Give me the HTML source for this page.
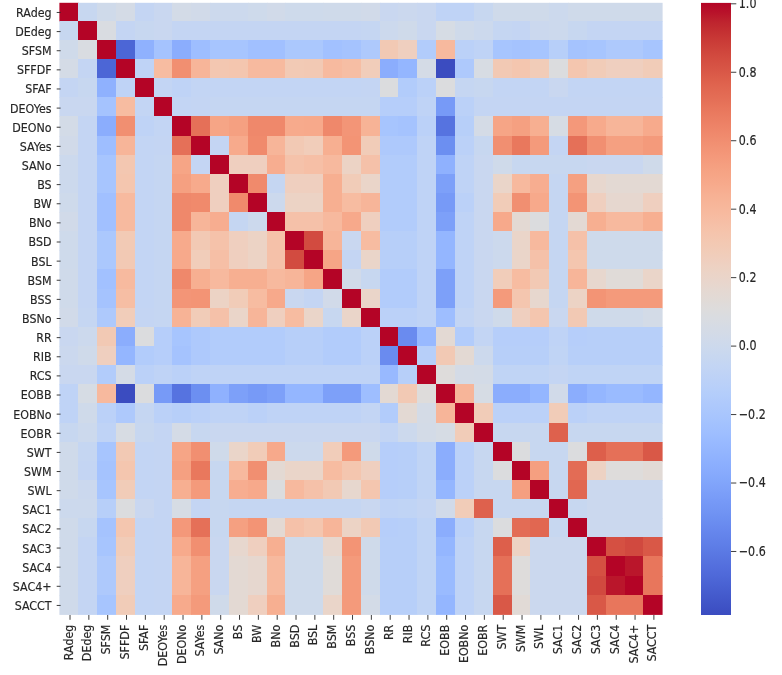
<!DOCTYPE html><html><head><meta charset="utf-8"><title>Correlation heatmap</title>
<style>html,body{margin:0;padding:0;background:#fff}svg{display:block}text{font-family:"DejaVu Sans","Liberation Sans",sans-serif;font-size:11.1px;fill:#262626;stroke:#262626;stroke-width:0.15px}</style></head><body>
<svg width="782" height="675" viewBox="0 0 782 675">
<rect width="782" height="675" fill="#fff"/>
<g>
<rect x="59.40" y="2.80" width="19.20" height="18.80" fill="#b40426"/>
<rect x="78.00" y="2.80" width="19.60" height="18.80" fill="#c7d7f0"/>
<rect x="97.00" y="2.80" width="19.60" height="18.80" fill="#cfdaea"/>
<rect x="116.00" y="2.80" width="19.60" height="18.80" fill="#d4dbe6"/>
<rect x="135.00" y="2.80" width="19.60" height="18.80" fill="#c4d5f3"/>
<rect x="154.00" y="2.80" width="18.60" height="18.80" fill="#c9d7f0"/>
<rect x="172.00" y="2.80" width="19.60" height="18.80" fill="#d3dbe7"/>
<rect x="191.00" y="2.80" width="19.60" height="18.80" fill="#d1dae9"/>
<rect x="210.00" y="2.80" width="38.60" height="18.80" fill="#ccd9ed"/>
<rect x="248.00" y="2.80" width="19.60" height="18.80" fill="#cedaeb"/>
<rect x="267.00" y="2.80" width="18.60" height="18.80" fill="#d1dae9"/>
<rect x="285.00" y="2.80" width="38.60" height="18.80" fill="#cedaeb"/>
<rect x="323.00" y="2.80" width="38.60" height="18.80" fill="#cfdaea"/>
<rect x="361.00" y="2.80" width="19.60" height="18.80" fill="#d1dae9"/>
<rect x="380.00" y="2.80" width="18.60" height="18.80" fill="#c9d7f0"/>
<rect x="398.00" y="2.80" width="19.60" height="18.80" fill="#cbd8ee"/>
<rect x="417.00" y="2.80" width="19.60" height="18.80" fill="#c9d7f0"/>
<rect x="436.00" y="2.80" width="38.60" height="18.80" fill="#bfd3f6"/>
<rect x="474.00" y="2.80" width="19.60" height="18.80" fill="#c7d7f0"/>
<rect x="493.00" y="2.80" width="56.60" height="18.80" fill="#cfdaea"/>
<rect x="549.00" y="2.80" width="19.60" height="18.80" fill="#ccd9ed"/>
<rect x="568.00" y="2.80" width="94.60" height="18.80" fill="#cfdaea"/>
<rect x="59.40" y="21.00" width="19.20" height="19.60" fill="#c7d7f0"/>
<rect x="78.00" y="21.00" width="19.60" height="19.60" fill="#b40426"/>
<rect x="97.00" y="21.00" width="19.60" height="19.60" fill="#d9dce1"/>
<rect x="116.00" y="21.00" width="19.60" height="19.60" fill="#c4d5f3"/>
<rect x="135.00" y="21.00" width="19.60" height="19.60" fill="#c7d7f0"/>
<rect x="154.00" y="21.00" width="18.60" height="19.60" fill="#c9d7f0"/>
<rect x="172.00" y="21.00" width="189.60" height="19.60" fill="#c4d5f3"/>
<rect x="361.00" y="21.00" width="19.60" height="19.60" fill="#c5d6f2"/>
<rect x="380.00" y="21.00" width="18.60" height="19.60" fill="#ccd9ed"/>
<rect x="398.00" y="21.00" width="19.60" height="19.60" fill="#cfdaea"/>
<rect x="417.00" y="21.00" width="19.60" height="19.60" fill="#c9d7f0"/>
<rect x="436.00" y="21.00" width="19.60" height="19.60" fill="#d6dce4"/>
<rect x="455.00" y="21.00" width="19.60" height="19.60" fill="#cfdaea"/>
<rect x="474.00" y="21.00" width="19.60" height="19.60" fill="#ccd9ed"/>
<rect x="493.00" y="21.00" width="19.60" height="19.60" fill="#c5d6f2"/>
<rect x="512.00" y="21.00" width="18.60" height="19.60" fill="#c4d5f3"/>
<rect x="530.00" y="21.00" width="19.60" height="19.60" fill="#cbd8ee"/>
<rect x="549.00" y="21.00" width="19.60" height="19.60" fill="#ccd9ed"/>
<rect x="568.00" y="21.00" width="19.60" height="19.60" fill="#c7d7f0"/>
<rect x="587.00" y="21.00" width="75.60" height="19.60" fill="#c4d5f3"/>
<rect x="59.40" y="40.00" width="19.20" height="19.60" fill="#cfdaea"/>
<rect x="78.00" y="40.00" width="19.60" height="19.60" fill="#d9dce1"/>
<rect x="97.00" y="40.00" width="19.60" height="19.60" fill="#b40426"/>
<rect x="116.00" y="40.00" width="19.60" height="19.60" fill="#4c66d6"/>
<rect x="135.00" y="40.00" width="19.60" height="19.60" fill="#8fb1fe"/>
<rect x="154.00" y="40.00" width="18.60" height="19.60" fill="#a5c3fe"/>
<rect x="172.00" y="40.00" width="19.60" height="19.60" fill="#8badfd"/>
<rect x="191.00" y="40.00" width="19.60" height="19.60" fill="#9ebeff"/>
<rect x="210.00" y="40.00" width="38.60" height="19.60" fill="#a7c5fe"/>
<rect x="248.00" y="40.00" width="37.60" height="19.60" fill="#a1c0ff"/>
<rect x="285.00" y="40.00" width="38.60" height="19.60" fill="#abc8fd"/>
<rect x="323.00" y="40.00" width="19.60" height="19.60" fill="#a2c1ff"/>
<rect x="342.00" y="40.00" width="19.60" height="19.60" fill="#a5c3fe"/>
<rect x="361.00" y="40.00" width="19.60" height="19.60" fill="#aec9fc"/>
<rect x="380.00" y="40.00" width="18.60" height="19.60" fill="#f2c9b4"/>
<rect x="398.00" y="40.00" width="19.60" height="19.60" fill="#efcfbf"/>
<rect x="417.00" y="40.00" width="19.60" height="19.60" fill="#b2ccfb"/>
<rect x="436.00" y="40.00" width="19.60" height="19.60" fill="#f7b99e"/>
<rect x="455.00" y="40.00" width="19.60" height="19.60" fill="#bbd1f8"/>
<rect x="474.00" y="40.00" width="19.60" height="19.60" fill="#bfd3f6"/>
<rect x="493.00" y="40.00" width="19.60" height="19.60" fill="#a7c5fe"/>
<rect x="512.00" y="40.00" width="18.60" height="19.60" fill="#a5c3fe"/>
<rect x="530.00" y="40.00" width="19.60" height="19.60" fill="#a7c5fe"/>
<rect x="549.00" y="40.00" width="19.60" height="19.60" fill="#b7cff9"/>
<rect x="568.00" y="40.00" width="19.60" height="19.60" fill="#a5c3fe"/>
<rect x="587.00" y="40.00" width="19.60" height="19.60" fill="#a7c5fe"/>
<rect x="606.00" y="40.00" width="37.60" height="19.60" fill="#aec9fc"/>
<rect x="643.00" y="40.00" width="19.60" height="19.60" fill="#a7c5fe"/>
<rect x="59.40" y="59.00" width="19.20" height="19.60" fill="#d4dbe6"/>
<rect x="78.00" y="59.00" width="19.60" height="19.60" fill="#c4d5f3"/>
<rect x="97.00" y="59.00" width="19.60" height="19.60" fill="#4c66d6"/>
<rect x="116.00" y="59.00" width="19.60" height="19.60" fill="#b40426"/>
<rect x="135.00" y="59.00" width="19.60" height="19.60" fill="#bfd3f6"/>
<rect x="154.00" y="59.00" width="18.60" height="19.60" fill="#f7bca1"/>
<rect x="172.00" y="59.00" width="19.60" height="19.60" fill="#f18f71"/>
<rect x="191.00" y="59.00" width="19.60" height="19.60" fill="#f7b599"/>
<rect x="210.00" y="59.00" width="19.60" height="19.60" fill="#f3c7b1"/>
<rect x="229.00" y="59.00" width="19.60" height="19.60" fill="#f4c6af"/>
<rect x="248.00" y="59.00" width="37.60" height="19.60" fill="#f7ba9f"/>
<rect x="285.00" y="59.00" width="19.60" height="19.60" fill="#f2cab5"/>
<rect x="304.00" y="59.00" width="19.60" height="19.60" fill="#f2c9b4"/>
<rect x="323.00" y="59.00" width="19.60" height="19.60" fill="#f7ba9f"/>
<rect x="342.00" y="59.00" width="19.60" height="19.60" fill="#f6bea4"/>
<rect x="361.00" y="59.00" width="19.60" height="19.60" fill="#f1cdba"/>
<rect x="380.00" y="59.00" width="18.60" height="19.60" fill="#8badfd"/>
<rect x="398.00" y="59.00" width="19.60" height="19.60" fill="#94b6ff"/>
<rect x="417.00" y="59.00" width="19.60" height="19.60" fill="#d4dbe6"/>
<rect x="436.00" y="59.00" width="19.60" height="19.60" fill="#3b4cc0"/>
<rect x="455.00" y="59.00" width="19.60" height="19.60" fill="#aec9fc"/>
<rect x="474.00" y="59.00" width="19.60" height="19.60" fill="#d7dce3"/>
<rect x="493.00" y="59.00" width="19.60" height="19.60" fill="#f2c9b4"/>
<rect x="512.00" y="59.00" width="18.60" height="19.60" fill="#f4c6af"/>
<rect x="530.00" y="59.00" width="19.60" height="19.60" fill="#f1ccb8"/>
<rect x="549.00" y="59.00" width="19.60" height="19.60" fill="#dbdcde"/>
<rect x="568.00" y="59.00" width="19.60" height="19.60" fill="#f4c6af"/>
<rect x="587.00" y="59.00" width="19.60" height="19.60" fill="#f1ccb8"/>
<rect x="606.00" y="59.00" width="37.60" height="19.60" fill="#efcfbf"/>
<rect x="643.00" y="59.00" width="19.60" height="19.60" fill="#f1ccb8"/>
<rect x="59.40" y="78.00" width="19.20" height="19.60" fill="#c4d5f3"/>
<rect x="78.00" y="78.00" width="19.60" height="19.60" fill="#c7d7f0"/>
<rect x="97.00" y="78.00" width="19.60" height="19.60" fill="#8fb1fe"/>
<rect x="116.00" y="78.00" width="19.60" height="19.60" fill="#bfd3f6"/>
<rect x="135.00" y="78.00" width="19.60" height="19.60" fill="#b40426"/>
<rect x="154.00" y="78.00" width="18.60" height="19.60" fill="#c3d5f4"/>
<rect x="172.00" y="78.00" width="19.60" height="19.60" fill="#bfd3f6"/>
<rect x="191.00" y="78.00" width="170.60" height="19.60" fill="#c3d5f4"/>
<rect x="361.00" y="78.00" width="19.60" height="19.60" fill="#c4d5f3"/>
<rect x="380.00" y="78.00" width="18.60" height="19.60" fill="#dbdcde"/>
<rect x="398.00" y="78.00" width="19.60" height="19.60" fill="#b2ccfb"/>
<rect x="417.00" y="78.00" width="19.60" height="19.60" fill="#bbd1f8"/>
<rect x="436.00" y="78.00" width="19.60" height="19.60" fill="#dbdcde"/>
<rect x="455.00" y="78.00" width="19.60" height="19.60" fill="#c5d6f2"/>
<rect x="474.00" y="78.00" width="19.60" height="19.60" fill="#c7d7f0"/>
<rect x="493.00" y="78.00" width="56.60" height="19.60" fill="#c3d5f4"/>
<rect x="549.00" y="78.00" width="19.60" height="19.60" fill="#c9d7f0"/>
<rect x="568.00" y="78.00" width="94.60" height="19.60" fill="#c3d5f4"/>
<rect x="59.40" y="97.00" width="38.20" height="19.60" fill="#c9d7f0"/>
<rect x="97.00" y="97.00" width="19.60" height="19.60" fill="#a5c3fe"/>
<rect x="116.00" y="97.00" width="19.60" height="19.60" fill="#f7bca1"/>
<rect x="135.00" y="97.00" width="19.60" height="19.60" fill="#c3d5f4"/>
<rect x="154.00" y="97.00" width="18.60" height="19.60" fill="#b40426"/>
<rect x="172.00" y="97.00" width="19.60" height="19.60" fill="#c3d5f4"/>
<rect x="191.00" y="97.00" width="19.60" height="19.60" fill="#c4d5f3"/>
<rect x="210.00" y="97.00" width="170.60" height="19.60" fill="#c5d6f2"/>
<rect x="380.00" y="97.00" width="37.60" height="19.60" fill="#b6cefa"/>
<rect x="417.00" y="97.00" width="19.60" height="19.60" fill="#bfd3f6"/>
<rect x="436.00" y="97.00" width="19.60" height="19.60" fill="#779af7"/>
<rect x="455.00" y="97.00" width="19.60" height="19.60" fill="#bbd1f8"/>
<rect x="474.00" y="97.00" width="188.60" height="19.60" fill="#c4d5f3"/>
<rect x="59.40" y="116.00" width="19.20" height="20.60" fill="#d3dbe7"/>
<rect x="78.00" y="116.00" width="19.60" height="20.60" fill="#c4d5f3"/>
<rect x="97.00" y="116.00" width="19.60" height="20.60" fill="#8badfd"/>
<rect x="116.00" y="116.00" width="19.60" height="20.60" fill="#f18f71"/>
<rect x="135.00" y="116.00" width="19.60" height="20.60" fill="#bfd3f6"/>
<rect x="154.00" y="116.00" width="18.60" height="20.60" fill="#c3d5f4"/>
<rect x="172.00" y="116.00" width="19.60" height="20.60" fill="#b40426"/>
<rect x="191.00" y="116.00" width="19.60" height="20.60" fill="#e57058"/>
<rect x="210.00" y="116.00" width="19.60" height="20.60" fill="#f6a586"/>
<rect x="229.00" y="116.00" width="19.60" height="20.60" fill="#f5a081"/>
<rect x="248.00" y="116.00" width="37.60" height="20.60" fill="#ef886b"/>
<rect x="285.00" y="116.00" width="19.60" height="20.60" fill="#f7aa8c"/>
<rect x="304.00" y="116.00" width="19.60" height="20.60" fill="#f7a98b"/>
<rect x="323.00" y="116.00" width="19.60" height="20.60" fill="#ef886b"/>
<rect x="342.00" y="116.00" width="19.60" height="20.60" fill="#f39577"/>
<rect x="361.00" y="116.00" width="19.60" height="20.60" fill="#f7b396"/>
<rect x="380.00" y="116.00" width="18.60" height="20.60" fill="#a7c5fe"/>
<rect x="398.00" y="116.00" width="19.60" height="20.60" fill="#a5c3fe"/>
<rect x="417.00" y="116.00" width="19.60" height="20.60" fill="#bbd1f8"/>
<rect x="436.00" y="116.00" width="19.60" height="20.60" fill="#5673e0"/>
<rect x="455.00" y="116.00" width="19.60" height="20.60" fill="#b7cff9"/>
<rect x="474.00" y="116.00" width="19.60" height="20.60" fill="#d4dbe6"/>
<rect x="493.00" y="116.00" width="19.60" height="20.60" fill="#f6a586"/>
<rect x="512.00" y="116.00" width="18.60" height="20.60" fill="#f5a081"/>
<rect x="530.00" y="116.00" width="19.60" height="20.60" fill="#f7af91"/>
<rect x="549.00" y="116.00" width="19.60" height="20.60" fill="#d6dce4"/>
<rect x="568.00" y="116.00" width="19.60" height="20.60" fill="#f4987a"/>
<rect x="587.00" y="116.00" width="19.60" height="20.60" fill="#f7aa8c"/>
<rect x="606.00" y="116.00" width="37.60" height="20.60" fill="#f7b599"/>
<rect x="643.00" y="116.00" width="19.60" height="20.60" fill="#f7aa8c"/>
<rect x="59.40" y="136.00" width="19.20" height="19.60" fill="#d1dae9"/>
<rect x="78.00" y="136.00" width="19.60" height="19.60" fill="#c4d5f3"/>
<rect x="97.00" y="136.00" width="19.60" height="19.60" fill="#9ebeff"/>
<rect x="116.00" y="136.00" width="19.60" height="19.60" fill="#f7b599"/>
<rect x="135.00" y="136.00" width="19.60" height="19.60" fill="#c3d5f4"/>
<rect x="154.00" y="136.00" width="18.60" height="19.60" fill="#c4d5f3"/>
<rect x="172.00" y="136.00" width="19.60" height="19.60" fill="#e57058"/>
<rect x="191.00" y="136.00" width="19.60" height="19.60" fill="#b40426"/>
<rect x="210.00" y="136.00" width="19.60" height="19.60" fill="#c4d5f3"/>
<rect x="229.00" y="136.00" width="19.60" height="19.60" fill="#f7aa8c"/>
<rect x="248.00" y="136.00" width="19.60" height="19.60" fill="#f08a6c"/>
<rect x="267.00" y="136.00" width="18.60" height="19.60" fill="#f7b599"/>
<rect x="285.00" y="136.00" width="19.60" height="19.60" fill="#f2c9b4"/>
<rect x="304.00" y="136.00" width="19.60" height="19.60" fill="#f1cdba"/>
<rect x="323.00" y="136.00" width="19.60" height="19.60" fill="#f7af91"/>
<rect x="342.00" y="136.00" width="19.60" height="19.60" fill="#f39475"/>
<rect x="361.00" y="136.00" width="19.60" height="19.60" fill="#f1ccb8"/>
<rect x="380.00" y="136.00" width="37.60" height="19.60" fill="#aec9fc"/>
<rect x="417.00" y="136.00" width="19.60" height="19.60" fill="#bfd3f6"/>
<rect x="436.00" y="136.00" width="19.60" height="19.60" fill="#6c8ff1"/>
<rect x="455.00" y="136.00" width="19.60" height="19.60" fill="#bbd1f8"/>
<rect x="474.00" y="136.00" width="19.60" height="19.60" fill="#c7d7f0"/>
<rect x="493.00" y="136.00" width="19.60" height="19.60" fill="#f18f71"/>
<rect x="512.00" y="136.00" width="18.60" height="19.60" fill="#e9785d"/>
<rect x="530.00" y="136.00" width="19.60" height="19.60" fill="#f49a7b"/>
<rect x="549.00" y="136.00" width="19.60" height="19.60" fill="#c4d5f3"/>
<rect x="568.00" y="136.00" width="19.60" height="19.60" fill="#e57058"/>
<rect x="587.00" y="136.00" width="19.60" height="19.60" fill="#f18f71"/>
<rect x="606.00" y="136.00" width="37.60" height="19.60" fill="#f5a081"/>
<rect x="643.00" y="136.00" width="19.60" height="19.60" fill="#f49a7b"/>
<rect x="59.40" y="155.00" width="19.20" height="19.60" fill="#ccd9ed"/>
<rect x="78.00" y="155.00" width="19.60" height="19.60" fill="#c4d5f3"/>
<rect x="97.00" y="155.00" width="19.60" height="19.60" fill="#a7c5fe"/>
<rect x="116.00" y="155.00" width="19.60" height="19.60" fill="#f3c7b1"/>
<rect x="135.00" y="155.00" width="19.60" height="19.60" fill="#c3d5f4"/>
<rect x="154.00" y="155.00" width="18.60" height="19.60" fill="#c5d6f2"/>
<rect x="172.00" y="155.00" width="19.60" height="19.60" fill="#f6a586"/>
<rect x="191.00" y="155.00" width="19.60" height="19.60" fill="#c4d5f3"/>
<rect x="210.00" y="155.00" width="19.60" height="19.60" fill="#b40426"/>
<rect x="229.00" y="155.00" width="38.60" height="19.60" fill="#efcfbf"/>
<rect x="267.00" y="155.00" width="18.60" height="19.60" fill="#f7ad90"/>
<rect x="285.00" y="155.00" width="19.60" height="19.60" fill="#f5c2aa"/>
<rect x="304.00" y="155.00" width="19.60" height="19.60" fill="#f6bfa6"/>
<rect x="323.00" y="155.00" width="19.60" height="19.60" fill="#f7b99e"/>
<rect x="342.00" y="155.00" width="19.60" height="19.60" fill="#ecd3c5"/>
<rect x="361.00" y="155.00" width="19.60" height="19.60" fill="#f5c1a9"/>
<rect x="380.00" y="155.00" width="37.60" height="19.60" fill="#b2ccfb"/>
<rect x="417.00" y="155.00" width="19.60" height="19.60" fill="#bfd3f6"/>
<rect x="436.00" y="155.00" width="19.60" height="19.60" fill="#8fb1fe"/>
<rect x="455.00" y="155.00" width="19.60" height="19.60" fill="#bfd3f6"/>
<rect x="474.00" y="155.00" width="19.60" height="19.60" fill="#c9d7f0"/>
<rect x="493.00" y="155.00" width="19.60" height="19.60" fill="#cfdaea"/>
<rect x="512.00" y="155.00" width="75.60" height="19.60" fill="#c7d7f0"/>
<rect x="587.00" y="155.00" width="56.60" height="19.60" fill="#c9d7f0"/>
<rect x="643.00" y="155.00" width="19.60" height="19.60" fill="#cfdaea"/>
<rect x="59.40" y="174.00" width="19.20" height="19.60" fill="#ccd9ed"/>
<rect x="78.00" y="174.00" width="19.60" height="19.60" fill="#c4d5f3"/>
<rect x="97.00" y="174.00" width="19.60" height="19.60" fill="#a7c5fe"/>
<rect x="116.00" y="174.00" width="19.60" height="19.60" fill="#f4c6af"/>
<rect x="135.00" y="174.00" width="19.60" height="19.60" fill="#c3d5f4"/>
<rect x="154.00" y="174.00" width="18.60" height="19.60" fill="#c5d6f2"/>
<rect x="172.00" y="174.00" width="19.60" height="19.60" fill="#f5a081"/>
<rect x="191.00" y="174.00" width="19.60" height="19.60" fill="#f7aa8c"/>
<rect x="210.00" y="174.00" width="19.60" height="19.60" fill="#efcfbf"/>
<rect x="229.00" y="174.00" width="19.60" height="19.60" fill="#b40426"/>
<rect x="248.00" y="174.00" width="19.60" height="19.60" fill="#f08a6c"/>
<rect x="267.00" y="174.00" width="18.60" height="19.60" fill="#c5d6f2"/>
<rect x="285.00" y="174.00" width="38.60" height="19.60" fill="#efcfbf"/>
<rect x="323.00" y="174.00" width="19.60" height="19.60" fill="#f7af91"/>
<rect x="342.00" y="174.00" width="19.60" height="19.60" fill="#f1ccb8"/>
<rect x="361.00" y="174.00" width="19.60" height="19.60" fill="#ead5c9"/>
<rect x="380.00" y="174.00" width="37.60" height="19.60" fill="#b2ccfb"/>
<rect x="417.00" y="174.00" width="19.60" height="19.60" fill="#bfd3f6"/>
<rect x="436.00" y="174.00" width="19.60" height="19.60" fill="#7da0f9"/>
<rect x="455.00" y="174.00" width="19.60" height="19.60" fill="#bfd3f6"/>
<rect x="474.00" y="174.00" width="19.60" height="19.60" fill="#c9d7f0"/>
<rect x="493.00" y="174.00" width="19.60" height="19.60" fill="#ead5c9"/>
<rect x="512.00" y="174.00" width="18.60" height="19.60" fill="#f7b99e"/>
<rect x="530.00" y="174.00" width="19.60" height="19.60" fill="#f7ad90"/>
<rect x="549.00" y="174.00" width="19.60" height="19.60" fill="#c5d6f2"/>
<rect x="568.00" y="174.00" width="19.60" height="19.60" fill="#f5a081"/>
<rect x="587.00" y="174.00" width="19.60" height="19.60" fill="#e7d7ce"/>
<rect x="606.00" y="174.00" width="56.60" height="19.60" fill="#e3d9d3"/>
<rect x="59.40" y="193.00" width="19.20" height="19.60" fill="#cedaeb"/>
<rect x="78.00" y="193.00" width="19.60" height="19.60" fill="#c4d5f3"/>
<rect x="97.00" y="193.00" width="19.60" height="19.60" fill="#a1c0ff"/>
<rect x="116.00" y="193.00" width="19.60" height="19.60" fill="#f7ba9f"/>
<rect x="135.00" y="193.00" width="19.60" height="19.60" fill="#c3d5f4"/>
<rect x="154.00" y="193.00" width="18.60" height="19.60" fill="#c5d6f2"/>
<rect x="172.00" y="193.00" width="19.60" height="19.60" fill="#ef886b"/>
<rect x="191.00" y="193.00" width="19.60" height="19.60" fill="#f08a6c"/>
<rect x="210.00" y="193.00" width="19.60" height="19.60" fill="#efcfbf"/>
<rect x="229.00" y="193.00" width="19.60" height="19.60" fill="#f08a6c"/>
<rect x="248.00" y="193.00" width="19.60" height="19.60" fill="#b40426"/>
<rect x="267.00" y="193.00" width="18.60" height="19.60" fill="#ccd9ed"/>
<rect x="285.00" y="193.00" width="38.60" height="19.60" fill="#ecd3c5"/>
<rect x="323.00" y="193.00" width="19.60" height="19.60" fill="#f7af91"/>
<rect x="342.00" y="193.00" width="19.60" height="19.60" fill="#f7bca1"/>
<rect x="361.00" y="193.00" width="19.60" height="19.60" fill="#f7b599"/>
<rect x="380.00" y="193.00" width="37.60" height="19.60" fill="#b2ccfb"/>
<rect x="417.00" y="193.00" width="19.60" height="19.60" fill="#bfd3f6"/>
<rect x="436.00" y="193.00" width="19.60" height="19.60" fill="#779af7"/>
<rect x="455.00" y="193.00" width="19.60" height="19.60" fill="#bbd1f8"/>
<rect x="474.00" y="193.00" width="19.60" height="19.60" fill="#c9d7f0"/>
<rect x="493.00" y="193.00" width="19.60" height="19.60" fill="#f1ccb8"/>
<rect x="512.00" y="193.00" width="18.60" height="19.60" fill="#f18f71"/>
<rect x="530.00" y="193.00" width="19.60" height="19.60" fill="#f7a98b"/>
<rect x="549.00" y="193.00" width="19.60" height="19.60" fill="#c5d6f2"/>
<rect x="568.00" y="193.00" width="19.60" height="19.60" fill="#f39475"/>
<rect x="587.00" y="193.00" width="19.60" height="19.60" fill="#efcfbf"/>
<rect x="606.00" y="193.00" width="37.60" height="19.60" fill="#e6d7cf"/>
<rect x="643.00" y="193.00" width="19.60" height="19.60" fill="#efcfbf"/>
<rect x="59.40" y="212.00" width="19.20" height="19.60" fill="#d1dae9"/>
<rect x="78.00" y="212.00" width="19.60" height="19.60" fill="#c4d5f3"/>
<rect x="97.00" y="212.00" width="19.60" height="19.60" fill="#a1c0ff"/>
<rect x="116.00" y="212.00" width="19.60" height="19.60" fill="#f7ba9f"/>
<rect x="135.00" y="212.00" width="19.60" height="19.60" fill="#c3d5f4"/>
<rect x="154.00" y="212.00" width="18.60" height="19.60" fill="#c5d6f2"/>
<rect x="172.00" y="212.00" width="19.60" height="19.60" fill="#ef886b"/>
<rect x="191.00" y="212.00" width="19.60" height="19.60" fill="#f7b599"/>
<rect x="210.00" y="212.00" width="19.60" height="19.60" fill="#f7ad90"/>
<rect x="229.00" y="212.00" width="19.60" height="19.60" fill="#c5d6f2"/>
<rect x="248.00" y="212.00" width="19.60" height="19.60" fill="#ccd9ed"/>
<rect x="267.00" y="212.00" width="18.60" height="19.60" fill="#b40426"/>
<rect x="285.00" y="212.00" width="38.60" height="19.60" fill="#f5c1a9"/>
<rect x="323.00" y="212.00" width="19.60" height="19.60" fill="#f7b99e"/>
<rect x="342.00" y="212.00" width="19.60" height="19.60" fill="#f7a98b"/>
<rect x="361.00" y="212.00" width="19.60" height="19.60" fill="#efcfbf"/>
<rect x="380.00" y="212.00" width="37.60" height="19.60" fill="#b2ccfb"/>
<rect x="417.00" y="212.00" width="19.60" height="19.60" fill="#bfd3f6"/>
<rect x="436.00" y="212.00" width="19.60" height="19.60" fill="#7da0f9"/>
<rect x="455.00" y="212.00" width="19.60" height="19.60" fill="#bfd3f6"/>
<rect x="474.00" y="212.00" width="19.60" height="19.60" fill="#c9d7f0"/>
<rect x="493.00" y="212.00" width="19.60" height="19.60" fill="#f7a98b"/>
<rect x="512.00" y="212.00" width="18.60" height="19.60" fill="#e3d9d3"/>
<rect x="530.00" y="212.00" width="19.60" height="19.60" fill="#dbdcde"/>
<rect x="549.00" y="212.00" width="19.60" height="19.60" fill="#c5d6f2"/>
<rect x="568.00" y="212.00" width="19.60" height="19.60" fill="#e3d9d3"/>
<rect x="587.00" y="212.00" width="19.60" height="19.60" fill="#f7af91"/>
<rect x="606.00" y="212.00" width="37.60" height="19.60" fill="#f7b99e"/>
<rect x="643.00" y="212.00" width="19.60" height="19.60" fill="#f7af91"/>
<rect x="59.40" y="231.00" width="19.20" height="19.60" fill="#cedaeb"/>
<rect x="78.00" y="231.00" width="19.60" height="19.60" fill="#c4d5f3"/>
<rect x="97.00" y="231.00" width="19.60" height="19.60" fill="#abc8fd"/>
<rect x="116.00" y="231.00" width="19.60" height="19.60" fill="#f2cab5"/>
<rect x="135.00" y="231.00" width="19.60" height="19.60" fill="#c3d5f4"/>
<rect x="154.00" y="231.00" width="18.60" height="19.60" fill="#c5d6f2"/>
<rect x="172.00" y="231.00" width="19.60" height="19.60" fill="#f7aa8c"/>
<rect x="191.00" y="231.00" width="19.60" height="19.60" fill="#f2c9b4"/>
<rect x="210.00" y="231.00" width="19.60" height="19.60" fill="#f5c2aa"/>
<rect x="229.00" y="231.00" width="19.60" height="19.60" fill="#efcfbf"/>
<rect x="248.00" y="231.00" width="19.60" height="19.60" fill="#ecd3c5"/>
<rect x="267.00" y="231.00" width="18.60" height="19.60" fill="#f5c1a9"/>
<rect x="285.00" y="231.00" width="19.60" height="19.60" fill="#b40426"/>
<rect x="304.00" y="231.00" width="19.60" height="19.60" fill="#d24b40"/>
<rect x="323.00" y="231.00" width="19.60" height="19.60" fill="#f7b599"/>
<rect x="342.00" y="231.00" width="19.60" height="19.60" fill="#c9d7f0"/>
<rect x="361.00" y="231.00" width="19.60" height="19.60" fill="#f7bca1"/>
<rect x="380.00" y="231.00" width="37.60" height="19.60" fill="#b7cff9"/>
<rect x="417.00" y="231.00" width="19.60" height="19.60" fill="#bfd3f6"/>
<rect x="436.00" y="231.00" width="19.60" height="19.60" fill="#94b6ff"/>
<rect x="455.00" y="231.00" width="19.60" height="19.60" fill="#bfd3f6"/>
<rect x="474.00" y="231.00" width="19.60" height="19.60" fill="#c9d7f0"/>
<rect x="493.00" y="231.00" width="19.60" height="19.60" fill="#ccd9ed"/>
<rect x="512.00" y="231.00" width="18.60" height="19.60" fill="#ead5c9"/>
<rect x="530.00" y="231.00" width="19.60" height="19.60" fill="#f7b99e"/>
<rect x="549.00" y="231.00" width="19.60" height="19.60" fill="#c5d6f2"/>
<rect x="568.00" y="231.00" width="19.60" height="19.60" fill="#f5c1a9"/>
<rect x="587.00" y="231.00" width="75.60" height="19.60" fill="#cedaeb"/>
<rect x="59.40" y="250.00" width="19.20" height="19.60" fill="#cedaeb"/>
<rect x="78.00" y="250.00" width="19.60" height="19.60" fill="#c4d5f3"/>
<rect x="97.00" y="250.00" width="19.60" height="19.60" fill="#abc8fd"/>
<rect x="116.00" y="250.00" width="19.60" height="19.60" fill="#f2c9b4"/>
<rect x="135.00" y="250.00" width="19.60" height="19.60" fill="#c3d5f4"/>
<rect x="154.00" y="250.00" width="18.60" height="19.60" fill="#c5d6f2"/>
<rect x="172.00" y="250.00" width="19.60" height="19.60" fill="#f7a98b"/>
<rect x="191.00" y="250.00" width="19.60" height="19.60" fill="#f1cdba"/>
<rect x="210.00" y="250.00" width="19.60" height="19.60" fill="#f6bfa6"/>
<rect x="229.00" y="250.00" width="19.60" height="19.60" fill="#efcfbf"/>
<rect x="248.00" y="250.00" width="19.60" height="19.60" fill="#ecd3c5"/>
<rect x="267.00" y="250.00" width="18.60" height="19.60" fill="#f5c1a9"/>
<rect x="285.00" y="250.00" width="19.60" height="19.60" fill="#d24b40"/>
<rect x="304.00" y="250.00" width="19.60" height="19.60" fill="#b40426"/>
<rect x="323.00" y="250.00" width="19.60" height="19.60" fill="#f6a586"/>
<rect x="342.00" y="250.00" width="19.60" height="19.60" fill="#c4d5f3"/>
<rect x="361.00" y="250.00" width="19.60" height="19.60" fill="#ead5c9"/>
<rect x="380.00" y="250.00" width="37.60" height="19.60" fill="#b7cff9"/>
<rect x="417.00" y="250.00" width="19.60" height="19.60" fill="#bfd3f6"/>
<rect x="436.00" y="250.00" width="19.60" height="19.60" fill="#94b6ff"/>
<rect x="455.00" y="250.00" width="19.60" height="19.60" fill="#bfd3f6"/>
<rect x="474.00" y="250.00" width="19.60" height="19.60" fill="#c9d7f0"/>
<rect x="493.00" y="250.00" width="19.60" height="19.60" fill="#ccd9ed"/>
<rect x="512.00" y="250.00" width="18.60" height="19.60" fill="#ead5c9"/>
<rect x="530.00" y="250.00" width="19.60" height="19.60" fill="#f5c1a9"/>
<rect x="549.00" y="250.00" width="19.60" height="19.60" fill="#c5d6f2"/>
<rect x="568.00" y="250.00" width="19.60" height="19.60" fill="#f4c6af"/>
<rect x="587.00" y="250.00" width="75.60" height="19.60" fill="#cedaeb"/>
<rect x="59.40" y="269.00" width="19.20" height="20.60" fill="#cfdaea"/>
<rect x="78.00" y="269.00" width="19.60" height="20.60" fill="#c4d5f3"/>
<rect x="97.00" y="269.00" width="19.60" height="20.60" fill="#a2c1ff"/>
<rect x="116.00" y="269.00" width="19.60" height="20.60" fill="#f7ba9f"/>
<rect x="135.00" y="269.00" width="19.60" height="20.60" fill="#c3d5f4"/>
<rect x="154.00" y="269.00" width="18.60" height="20.60" fill="#c5d6f2"/>
<rect x="172.00" y="269.00" width="19.60" height="20.60" fill="#ef886b"/>
<rect x="191.00" y="269.00" width="19.60" height="20.60" fill="#f7af91"/>
<rect x="210.00" y="269.00" width="19.60" height="20.60" fill="#f7b99e"/>
<rect x="229.00" y="269.00" width="38.60" height="20.60" fill="#f7af91"/>
<rect x="267.00" y="269.00" width="18.60" height="20.60" fill="#f7b99e"/>
<rect x="285.00" y="269.00" width="19.60" height="20.60" fill="#f7b599"/>
<rect x="304.00" y="269.00" width="19.60" height="20.60" fill="#f6a586"/>
<rect x="323.00" y="269.00" width="19.60" height="20.60" fill="#b40426"/>
<rect x="342.00" y="269.00" width="19.60" height="20.60" fill="#d1dae9"/>
<rect x="361.00" y="269.00" width="19.60" height="20.60" fill="#c7d7f0"/>
<rect x="380.00" y="269.00" width="37.60" height="20.60" fill="#b2ccfb"/>
<rect x="417.00" y="269.00" width="19.60" height="20.60" fill="#bfd3f6"/>
<rect x="436.00" y="269.00" width="19.60" height="20.60" fill="#7da0f9"/>
<rect x="455.00" y="269.00" width="19.60" height="20.60" fill="#bfd3f6"/>
<rect x="474.00" y="269.00" width="19.60" height="20.60" fill="#c9d7f0"/>
<rect x="493.00" y="269.00" width="19.60" height="20.60" fill="#f1cdba"/>
<rect x="512.00" y="269.00" width="18.60" height="20.60" fill="#f7bca1"/>
<rect x="530.00" y="269.00" width="19.60" height="20.60" fill="#f2c9b4"/>
<rect x="549.00" y="269.00" width="19.60" height="20.60" fill="#c5d6f2"/>
<rect x="568.00" y="269.00" width="19.60" height="20.60" fill="#f7b599"/>
<rect x="587.00" y="269.00" width="19.60" height="20.60" fill="#e7d7ce"/>
<rect x="606.00" y="269.00" width="37.60" height="20.60" fill="#e0dbd8"/>
<rect x="643.00" y="269.00" width="19.60" height="20.60" fill="#ead5c9"/>
<rect x="59.40" y="289.00" width="19.20" height="19.60" fill="#cfdaea"/>
<rect x="78.00" y="289.00" width="19.60" height="19.60" fill="#c4d5f3"/>
<rect x="97.00" y="289.00" width="19.60" height="19.60" fill="#a5c3fe"/>
<rect x="116.00" y="289.00" width="19.60" height="19.60" fill="#f6bea4"/>
<rect x="135.00" y="289.00" width="19.60" height="19.60" fill="#c3d5f4"/>
<rect x="154.00" y="289.00" width="18.60" height="19.60" fill="#c5d6f2"/>
<rect x="172.00" y="289.00" width="19.60" height="19.60" fill="#f39577"/>
<rect x="191.00" y="289.00" width="19.60" height="19.60" fill="#f39475"/>
<rect x="210.00" y="289.00" width="19.60" height="19.60" fill="#ecd3c5"/>
<rect x="229.00" y="289.00" width="19.60" height="19.60" fill="#f1ccb8"/>
<rect x="248.00" y="289.00" width="19.60" height="19.60" fill="#f7bca1"/>
<rect x="267.00" y="289.00" width="18.60" height="19.60" fill="#f7a98b"/>
<rect x="285.00" y="289.00" width="19.60" height="19.60" fill="#c9d7f0"/>
<rect x="304.00" y="289.00" width="19.60" height="19.60" fill="#c4d5f3"/>
<rect x="323.00" y="289.00" width="19.60" height="19.60" fill="#d1dae9"/>
<rect x="342.00" y="289.00" width="19.60" height="19.60" fill="#b40426"/>
<rect x="361.00" y="289.00" width="19.60" height="19.60" fill="#ead5c9"/>
<rect x="380.00" y="289.00" width="37.60" height="19.60" fill="#b2ccfb"/>
<rect x="417.00" y="289.00" width="19.60" height="19.60" fill="#bfd3f6"/>
<rect x="436.00" y="289.00" width="19.60" height="19.60" fill="#7da0f9"/>
<rect x="455.00" y="289.00" width="19.60" height="19.60" fill="#bfd3f6"/>
<rect x="474.00" y="289.00" width="19.60" height="19.60" fill="#c9d7f0"/>
<rect x="493.00" y="289.00" width="19.60" height="19.60" fill="#f49a7b"/>
<rect x="512.00" y="289.00" width="18.60" height="19.60" fill="#f4c6af"/>
<rect x="530.00" y="289.00" width="19.60" height="19.60" fill="#e7d7ce"/>
<rect x="549.00" y="289.00" width="19.60" height="19.60" fill="#c5d6f2"/>
<rect x="568.00" y="289.00" width="19.60" height="19.60" fill="#ecd3c5"/>
<rect x="587.00" y="289.00" width="19.60" height="19.60" fill="#f39475"/>
<rect x="606.00" y="289.00" width="56.60" height="19.60" fill="#f49a7b"/>
<rect x="59.40" y="308.00" width="19.20" height="19.60" fill="#d1dae9"/>
<rect x="78.00" y="308.00" width="19.60" height="19.60" fill="#c5d6f2"/>
<rect x="97.00" y="308.00" width="19.60" height="19.60" fill="#aec9fc"/>
<rect x="116.00" y="308.00" width="19.60" height="19.60" fill="#f1cdba"/>
<rect x="135.00" y="308.00" width="19.60" height="19.60" fill="#c4d5f3"/>
<rect x="154.00" y="308.00" width="18.60" height="19.60" fill="#c5d6f2"/>
<rect x="172.00" y="308.00" width="19.60" height="19.60" fill="#f7b396"/>
<rect x="191.00" y="308.00" width="19.60" height="19.60" fill="#f1ccb8"/>
<rect x="210.00" y="308.00" width="19.60" height="19.60" fill="#f5c1a9"/>
<rect x="229.00" y="308.00" width="19.60" height="19.60" fill="#ead5c9"/>
<rect x="248.00" y="308.00" width="19.60" height="19.60" fill="#f7b599"/>
<rect x="267.00" y="308.00" width="18.60" height="19.60" fill="#efcfbf"/>
<rect x="285.00" y="308.00" width="19.60" height="19.60" fill="#f7bca1"/>
<rect x="304.00" y="308.00" width="19.60" height="19.60" fill="#ead5c9"/>
<rect x="323.00" y="308.00" width="19.60" height="19.60" fill="#c7d7f0"/>
<rect x="342.00" y="308.00" width="19.60" height="19.60" fill="#ead5c9"/>
<rect x="361.00" y="308.00" width="19.60" height="19.60" fill="#b40426"/>
<rect x="380.00" y="308.00" width="37.60" height="19.60" fill="#bbd1f8"/>
<rect x="417.00" y="308.00" width="19.60" height="19.60" fill="#bfd3f6"/>
<rect x="436.00" y="308.00" width="19.60" height="19.60" fill="#9ebeff"/>
<rect x="455.00" y="308.00" width="19.60" height="19.60" fill="#c3d5f4"/>
<rect x="474.00" y="308.00" width="19.60" height="19.60" fill="#c9d7f0"/>
<rect x="493.00" y="308.00" width="19.60" height="19.60" fill="#cfdaea"/>
<rect x="512.00" y="308.00" width="18.60" height="19.60" fill="#efcfbf"/>
<rect x="530.00" y="308.00" width="19.60" height="19.60" fill="#f4c6af"/>
<rect x="549.00" y="308.00" width="19.60" height="19.60" fill="#c9d7f0"/>
<rect x="568.00" y="308.00" width="19.60" height="19.60" fill="#f2c9b4"/>
<rect x="587.00" y="308.00" width="56.60" height="19.60" fill="#cfdaea"/>
<rect x="643.00" y="308.00" width="19.60" height="19.60" fill="#d3dbe7"/>
<rect x="59.40" y="327.00" width="19.20" height="19.60" fill="#c9d7f0"/>
<rect x="78.00" y="327.00" width="19.60" height="19.60" fill="#ccd9ed"/>
<rect x="97.00" y="327.00" width="19.60" height="19.60" fill="#f2c9b4"/>
<rect x="116.00" y="327.00" width="19.60" height="19.60" fill="#8badfd"/>
<rect x="135.00" y="327.00" width="19.60" height="19.60" fill="#dbdcde"/>
<rect x="154.00" y="327.00" width="18.60" height="19.60" fill="#b6cefa"/>
<rect x="172.00" y="327.00" width="19.60" height="19.60" fill="#a7c5fe"/>
<rect x="191.00" y="327.00" width="19.60" height="19.60" fill="#aec9fc"/>
<rect x="210.00" y="327.00" width="75.60" height="19.60" fill="#b2ccfb"/>
<rect x="285.00" y="327.00" width="38.60" height="19.60" fill="#b7cff9"/>
<rect x="323.00" y="327.00" width="38.60" height="19.60" fill="#b2ccfb"/>
<rect x="361.00" y="327.00" width="19.60" height="19.60" fill="#bbd1f8"/>
<rect x="380.00" y="327.00" width="18.60" height="19.60" fill="#b40426"/>
<rect x="398.00" y="327.00" width="19.60" height="19.60" fill="#6a8bef"/>
<rect x="417.00" y="327.00" width="19.60" height="19.60" fill="#98b9ff"/>
<rect x="436.00" y="327.00" width="19.60" height="19.60" fill="#e3d9d3"/>
<rect x="455.00" y="327.00" width="19.60" height="19.60" fill="#b2ccfb"/>
<rect x="474.00" y="327.00" width="19.60" height="19.60" fill="#c3d5f4"/>
<rect x="493.00" y="327.00" width="56.60" height="19.60" fill="#b6cefa"/>
<rect x="549.00" y="327.00" width="19.60" height="19.60" fill="#bfd3f6"/>
<rect x="568.00" y="327.00" width="19.60" height="19.60" fill="#b6cefa"/>
<rect x="587.00" y="327.00" width="75.60" height="19.60" fill="#b7cff9"/>
<rect x="59.40" y="346.00" width="19.20" height="19.60" fill="#cbd8ee"/>
<rect x="78.00" y="346.00" width="19.60" height="19.60" fill="#cfdaea"/>
<rect x="97.00" y="346.00" width="19.60" height="19.60" fill="#efcfbf"/>
<rect x="116.00" y="346.00" width="19.60" height="19.60" fill="#94b6ff"/>
<rect x="135.00" y="346.00" width="19.60" height="19.60" fill="#b2ccfb"/>
<rect x="154.00" y="346.00" width="18.60" height="19.60" fill="#b6cefa"/>
<rect x="172.00" y="346.00" width="19.60" height="19.60" fill="#a5c3fe"/>
<rect x="191.00" y="346.00" width="19.60" height="19.60" fill="#aec9fc"/>
<rect x="210.00" y="346.00" width="75.60" height="19.60" fill="#b2ccfb"/>
<rect x="285.00" y="346.00" width="38.60" height="19.60" fill="#b7cff9"/>
<rect x="323.00" y="346.00" width="38.60" height="19.60" fill="#b2ccfb"/>
<rect x="361.00" y="346.00" width="19.60" height="19.60" fill="#bbd1f8"/>
<rect x="380.00" y="346.00" width="18.60" height="19.60" fill="#6a8bef"/>
<rect x="398.00" y="346.00" width="19.60" height="19.60" fill="#b40426"/>
<rect x="417.00" y="346.00" width="19.60" height="19.60" fill="#b7cff9"/>
<rect x="436.00" y="346.00" width="19.60" height="19.60" fill="#f2c9b4"/>
<rect x="455.00" y="346.00" width="19.60" height="19.60" fill="#e3d9d3"/>
<rect x="474.00" y="346.00" width="19.60" height="19.60" fill="#ccd9ed"/>
<rect x="493.00" y="346.00" width="56.60" height="19.60" fill="#b7cff9"/>
<rect x="549.00" y="346.00" width="19.60" height="19.60" fill="#c0d4f5"/>
<rect x="568.00" y="346.00" width="94.60" height="19.60" fill="#b7cff9"/>
<rect x="59.40" y="365.00" width="38.20" height="19.60" fill="#c9d7f0"/>
<rect x="97.00" y="365.00" width="19.60" height="19.60" fill="#b2ccfb"/>
<rect x="116.00" y="365.00" width="19.60" height="19.60" fill="#d4dbe6"/>
<rect x="135.00" y="365.00" width="19.60" height="19.60" fill="#bbd1f8"/>
<rect x="154.00" y="365.00" width="18.60" height="19.60" fill="#bfd3f6"/>
<rect x="172.00" y="365.00" width="19.60" height="19.60" fill="#bbd1f8"/>
<rect x="191.00" y="365.00" width="189.60" height="19.60" fill="#bfd3f6"/>
<rect x="380.00" y="365.00" width="18.60" height="19.60" fill="#98b9ff"/>
<rect x="398.00" y="365.00" width="19.60" height="19.60" fill="#b7cff9"/>
<rect x="417.00" y="365.00" width="19.60" height="19.60" fill="#b40426"/>
<rect x="436.00" y="365.00" width="19.60" height="19.60" fill="#dedcdb"/>
<rect x="455.00" y="365.00" width="19.60" height="19.60" fill="#d4dbe6"/>
<rect x="474.00" y="365.00" width="19.60" height="19.60" fill="#d3dbe7"/>
<rect x="493.00" y="365.00" width="56.60" height="19.60" fill="#c0d4f5"/>
<rect x="549.00" y="365.00" width="19.60" height="19.60" fill="#c4d5f3"/>
<rect x="568.00" y="365.00" width="94.60" height="19.60" fill="#c0d4f5"/>
<rect x="59.40" y="384.00" width="19.20" height="19.60" fill="#bfd3f6"/>
<rect x="78.00" y="384.00" width="19.60" height="19.60" fill="#d6dce4"/>
<rect x="97.00" y="384.00" width="19.60" height="19.60" fill="#f7b99e"/>
<rect x="116.00" y="384.00" width="19.60" height="19.60" fill="#3b4cc0"/>
<rect x="135.00" y="384.00" width="19.60" height="19.60" fill="#dbdcde"/>
<rect x="154.00" y="384.00" width="18.60" height="19.60" fill="#779af7"/>
<rect x="172.00" y="384.00" width="19.60" height="19.60" fill="#5673e0"/>
<rect x="191.00" y="384.00" width="19.60" height="19.60" fill="#6c8ff1"/>
<rect x="210.00" y="384.00" width="19.60" height="19.60" fill="#8fb1fe"/>
<rect x="229.00" y="384.00" width="19.60" height="19.60" fill="#7da0f9"/>
<rect x="248.00" y="384.00" width="19.60" height="19.60" fill="#779af7"/>
<rect x="267.00" y="384.00" width="18.60" height="19.60" fill="#7da0f9"/>
<rect x="285.00" y="384.00" width="38.60" height="19.60" fill="#94b6ff"/>
<rect x="323.00" y="384.00" width="38.60" height="19.60" fill="#7da0f9"/>
<rect x="361.00" y="384.00" width="19.60" height="19.60" fill="#9ebeff"/>
<rect x="380.00" y="384.00" width="18.60" height="19.60" fill="#e3d9d3"/>
<rect x="398.00" y="384.00" width="19.60" height="19.60" fill="#f2c9b4"/>
<rect x="417.00" y="384.00" width="19.60" height="19.60" fill="#dedcdb"/>
<rect x="436.00" y="384.00" width="19.60" height="19.60" fill="#b40426"/>
<rect x="455.00" y="384.00" width="19.60" height="19.60" fill="#f7b599"/>
<rect x="474.00" y="384.00" width="19.60" height="19.60" fill="#d6dce4"/>
<rect x="493.00" y="384.00" width="37.60" height="19.60" fill="#8badfd"/>
<rect x="530.00" y="384.00" width="19.60" height="19.60" fill="#94b6ff"/>
<rect x="549.00" y="384.00" width="19.60" height="19.60" fill="#d1dae9"/>
<rect x="568.00" y="384.00" width="19.60" height="19.60" fill="#8badfd"/>
<rect x="587.00" y="384.00" width="19.60" height="19.60" fill="#94b6ff"/>
<rect x="606.00" y="384.00" width="37.60" height="19.60" fill="#9abbff"/>
<rect x="643.00" y="384.00" width="19.60" height="19.60" fill="#94b6ff"/>
<rect x="59.40" y="403.00" width="19.20" height="20.60" fill="#bfd3f6"/>
<rect x="78.00" y="403.00" width="19.60" height="20.60" fill="#cfdaea"/>
<rect x="97.00" y="403.00" width="19.60" height="20.60" fill="#bbd1f8"/>
<rect x="116.00" y="403.00" width="19.60" height="20.60" fill="#aec9fc"/>
<rect x="135.00" y="403.00" width="19.60" height="20.60" fill="#c5d6f2"/>
<rect x="154.00" y="403.00" width="18.60" height="20.60" fill="#bbd1f8"/>
<rect x="172.00" y="403.00" width="19.60" height="20.60" fill="#b7cff9"/>
<rect x="191.00" y="403.00" width="19.60" height="20.60" fill="#bbd1f8"/>
<rect x="210.00" y="403.00" width="38.60" height="20.60" fill="#bfd3f6"/>
<rect x="248.00" y="403.00" width="19.60" height="20.60" fill="#bbd1f8"/>
<rect x="267.00" y="403.00" width="94.60" height="20.60" fill="#bfd3f6"/>
<rect x="361.00" y="403.00" width="19.60" height="20.60" fill="#c3d5f4"/>
<rect x="380.00" y="403.00" width="18.60" height="20.60" fill="#b2ccfb"/>
<rect x="398.00" y="403.00" width="19.60" height="20.60" fill="#e3d9d3"/>
<rect x="417.00" y="403.00" width="19.60" height="20.60" fill="#d4dbe6"/>
<rect x="436.00" y="403.00" width="19.60" height="20.60" fill="#f7b599"/>
<rect x="455.00" y="403.00" width="19.60" height="20.60" fill="#b40426"/>
<rect x="474.00" y="403.00" width="19.60" height="20.60" fill="#f1ccb8"/>
<rect x="493.00" y="403.00" width="56.60" height="20.60" fill="#bbd1f8"/>
<rect x="549.00" y="403.00" width="19.60" height="20.60" fill="#f1ccb8"/>
<rect x="568.00" y="403.00" width="19.60" height="20.60" fill="#bbd1f8"/>
<rect x="587.00" y="403.00" width="75.60" height="20.60" fill="#bfd3f6"/>
<rect x="59.40" y="423.00" width="19.20" height="19.60" fill="#c7d7f0"/>
<rect x="78.00" y="423.00" width="19.60" height="19.60" fill="#ccd9ed"/>
<rect x="97.00" y="423.00" width="19.60" height="19.60" fill="#bfd3f6"/>
<rect x="116.00" y="423.00" width="19.60" height="19.60" fill="#d7dce3"/>
<rect x="135.00" y="423.00" width="19.60" height="19.60" fill="#c7d7f0"/>
<rect x="154.00" y="423.00" width="18.60" height="19.60" fill="#c4d5f3"/>
<rect x="172.00" y="423.00" width="19.60" height="19.60" fill="#d4dbe6"/>
<rect x="191.00" y="423.00" width="19.60" height="19.60" fill="#c7d7f0"/>
<rect x="210.00" y="423.00" width="170.60" height="19.60" fill="#c9d7f0"/>
<rect x="380.00" y="423.00" width="18.60" height="19.60" fill="#c3d5f4"/>
<rect x="398.00" y="423.00" width="19.60" height="19.60" fill="#ccd9ed"/>
<rect x="417.00" y="423.00" width="19.60" height="19.60" fill="#d3dbe7"/>
<rect x="436.00" y="423.00" width="19.60" height="19.60" fill="#d6dce4"/>
<rect x="455.00" y="423.00" width="19.60" height="19.60" fill="#f1ccb8"/>
<rect x="474.00" y="423.00" width="19.60" height="19.60" fill="#b40426"/>
<rect x="493.00" y="423.00" width="56.60" height="19.60" fill="#c7d7f0"/>
<rect x="549.00" y="423.00" width="19.60" height="19.60" fill="#de614d"/>
<rect x="568.00" y="423.00" width="94.60" height="19.60" fill="#c7d7f0"/>
<rect x="59.40" y="442.00" width="19.20" height="19.60" fill="#cfdaea"/>
<rect x="78.00" y="442.00" width="19.60" height="19.60" fill="#c5d6f2"/>
<rect x="97.00" y="442.00" width="19.60" height="19.60" fill="#a7c5fe"/>
<rect x="116.00" y="442.00" width="19.60" height="19.60" fill="#f2c9b4"/>
<rect x="135.00" y="442.00" width="19.60" height="19.60" fill="#c3d5f4"/>
<rect x="154.00" y="442.00" width="18.60" height="19.60" fill="#c4d5f3"/>
<rect x="172.00" y="442.00" width="19.60" height="19.60" fill="#f6a586"/>
<rect x="191.00" y="442.00" width="19.60" height="19.60" fill="#f18f71"/>
<rect x="210.00" y="442.00" width="19.60" height="19.60" fill="#cfdaea"/>
<rect x="229.00" y="442.00" width="19.60" height="19.60" fill="#ead5c9"/>
<rect x="248.00" y="442.00" width="19.60" height="19.60" fill="#f1ccb8"/>
<rect x="267.00" y="442.00" width="18.60" height="19.60" fill="#f7a98b"/>
<rect x="285.00" y="442.00" width="38.60" height="19.60" fill="#ccd9ed"/>
<rect x="323.00" y="442.00" width="19.60" height="19.60" fill="#f1cdba"/>
<rect x="342.00" y="442.00" width="19.60" height="19.60" fill="#f49a7b"/>
<rect x="361.00" y="442.00" width="19.60" height="19.60" fill="#cfdaea"/>
<rect x="380.00" y="442.00" width="18.60" height="19.60" fill="#b6cefa"/>
<rect x="398.00" y="442.00" width="19.60" height="19.60" fill="#b7cff9"/>
<rect x="417.00" y="442.00" width="19.60" height="19.60" fill="#c0d4f5"/>
<rect x="436.00" y="442.00" width="19.60" height="19.60" fill="#8badfd"/>
<rect x="455.00" y="442.00" width="19.60" height="19.60" fill="#bbd1f8"/>
<rect x="474.00" y="442.00" width="19.60" height="19.60" fill="#c7d7f0"/>
<rect x="493.00" y="442.00" width="19.60" height="19.60" fill="#b40426"/>
<rect x="512.00" y="442.00" width="18.60" height="19.60" fill="#dbdcde"/>
<rect x="530.00" y="442.00" width="38.60" height="19.60" fill="#c7d7f0"/>
<rect x="568.00" y="442.00" width="19.60" height="19.60" fill="#dbdcde"/>
<rect x="587.00" y="442.00" width="19.60" height="19.60" fill="#dd5f4b"/>
<rect x="606.00" y="442.00" width="37.60" height="19.60" fill="#e57058"/>
<rect x="643.00" y="442.00" width="19.60" height="19.60" fill="#d95847"/>
<rect x="59.40" y="461.00" width="19.20" height="19.60" fill="#cfdaea"/>
<rect x="78.00" y="461.00" width="19.60" height="19.60" fill="#c4d5f3"/>
<rect x="97.00" y="461.00" width="19.60" height="19.60" fill="#a5c3fe"/>
<rect x="116.00" y="461.00" width="19.60" height="19.60" fill="#f4c6af"/>
<rect x="135.00" y="461.00" width="19.60" height="19.60" fill="#c3d5f4"/>
<rect x="154.00" y="461.00" width="18.60" height="19.60" fill="#c4d5f3"/>
<rect x="172.00" y="461.00" width="19.60" height="19.60" fill="#f5a081"/>
<rect x="191.00" y="461.00" width="19.60" height="19.60" fill="#e9785d"/>
<rect x="210.00" y="461.00" width="19.60" height="19.60" fill="#c7d7f0"/>
<rect x="229.00" y="461.00" width="19.60" height="19.60" fill="#f7b99e"/>
<rect x="248.00" y="461.00" width="19.60" height="19.60" fill="#f18f71"/>
<rect x="267.00" y="461.00" width="18.60" height="19.60" fill="#e3d9d3"/>
<rect x="285.00" y="461.00" width="38.60" height="19.60" fill="#ead5c9"/>
<rect x="323.00" y="461.00" width="19.60" height="19.60" fill="#f7bca1"/>
<rect x="342.00" y="461.00" width="19.60" height="19.60" fill="#f4c6af"/>
<rect x="361.00" y="461.00" width="19.60" height="19.60" fill="#efcfbf"/>
<rect x="380.00" y="461.00" width="18.60" height="19.60" fill="#b6cefa"/>
<rect x="398.00" y="461.00" width="19.60" height="19.60" fill="#b7cff9"/>
<rect x="417.00" y="461.00" width="19.60" height="19.60" fill="#c0d4f5"/>
<rect x="436.00" y="461.00" width="19.60" height="19.60" fill="#8badfd"/>
<rect x="455.00" y="461.00" width="19.60" height="19.60" fill="#bbd1f8"/>
<rect x="474.00" y="461.00" width="19.60" height="19.60" fill="#c7d7f0"/>
<rect x="493.00" y="461.00" width="19.60" height="19.60" fill="#dbdcde"/>
<rect x="512.00" y="461.00" width="18.60" height="19.60" fill="#b40426"/>
<rect x="530.00" y="461.00" width="19.60" height="19.60" fill="#f59f80"/>
<rect x="549.00" y="461.00" width="19.60" height="19.60" fill="#c7d7f0"/>
<rect x="568.00" y="461.00" width="19.60" height="19.60" fill="#e36c55"/>
<rect x="587.00" y="461.00" width="19.60" height="19.60" fill="#edd2c3"/>
<rect x="606.00" y="461.00" width="37.60" height="19.60" fill="#dedcdb"/>
<rect x="643.00" y="461.00" width="19.60" height="19.60" fill="#e1dad6"/>
<rect x="59.40" y="480.00" width="19.20" height="19.60" fill="#cfdaea"/>
<rect x="78.00" y="480.00" width="19.60" height="19.60" fill="#cbd8ee"/>
<rect x="97.00" y="480.00" width="19.60" height="19.60" fill="#a7c5fe"/>
<rect x="116.00" y="480.00" width="19.60" height="19.60" fill="#f1ccb8"/>
<rect x="135.00" y="480.00" width="19.60" height="19.60" fill="#c3d5f4"/>
<rect x="154.00" y="480.00" width="18.60" height="19.60" fill="#c4d5f3"/>
<rect x="172.00" y="480.00" width="19.60" height="19.60" fill="#f7af91"/>
<rect x="191.00" y="480.00" width="19.60" height="19.60" fill="#f49a7b"/>
<rect x="210.00" y="480.00" width="19.60" height="19.60" fill="#c7d7f0"/>
<rect x="229.00" y="480.00" width="19.60" height="19.60" fill="#f7ad90"/>
<rect x="248.00" y="480.00" width="19.60" height="19.60" fill="#f7a98b"/>
<rect x="267.00" y="480.00" width="18.60" height="19.60" fill="#dbdcde"/>
<rect x="285.00" y="480.00" width="19.60" height="19.60" fill="#f7b99e"/>
<rect x="304.00" y="480.00" width="19.60" height="19.60" fill="#f5c1a9"/>
<rect x="323.00" y="480.00" width="19.60" height="19.60" fill="#f2c9b4"/>
<rect x="342.00" y="480.00" width="19.60" height="19.60" fill="#e7d7ce"/>
<rect x="361.00" y="480.00" width="19.60" height="19.60" fill="#f4c6af"/>
<rect x="380.00" y="480.00" width="18.60" height="19.60" fill="#b6cefa"/>
<rect x="398.00" y="480.00" width="19.60" height="19.60" fill="#b7cff9"/>
<rect x="417.00" y="480.00" width="19.60" height="19.60" fill="#c0d4f5"/>
<rect x="436.00" y="480.00" width="19.60" height="19.60" fill="#94b6ff"/>
<rect x="455.00" y="480.00" width="19.60" height="19.60" fill="#bbd1f8"/>
<rect x="474.00" y="480.00" width="38.60" height="19.60" fill="#c7d7f0"/>
<rect x="512.00" y="480.00" width="18.60" height="19.60" fill="#f59f80"/>
<rect x="530.00" y="480.00" width="19.60" height="19.60" fill="#b40426"/>
<rect x="549.00" y="480.00" width="19.60" height="19.60" fill="#c7d7f0"/>
<rect x="568.00" y="480.00" width="19.60" height="19.60" fill="#e16751"/>
<rect x="587.00" y="480.00" width="75.60" height="19.60" fill="#cbd8ee"/>
<rect x="59.40" y="499.00" width="38.20" height="19.60" fill="#ccd9ed"/>
<rect x="97.00" y="499.00" width="19.60" height="19.60" fill="#b7cff9"/>
<rect x="116.00" y="499.00" width="19.60" height="19.60" fill="#dbdcde"/>
<rect x="135.00" y="499.00" width="19.60" height="19.60" fill="#c9d7f0"/>
<rect x="154.00" y="499.00" width="18.60" height="19.60" fill="#c4d5f3"/>
<rect x="172.00" y="499.00" width="19.60" height="19.60" fill="#d6dce4"/>
<rect x="191.00" y="499.00" width="19.60" height="19.60" fill="#c4d5f3"/>
<rect x="210.00" y="499.00" width="19.60" height="19.60" fill="#c7d7f0"/>
<rect x="229.00" y="499.00" width="132.60" height="19.60" fill="#c5d6f2"/>
<rect x="361.00" y="499.00" width="19.60" height="19.60" fill="#c9d7f0"/>
<rect x="380.00" y="499.00" width="18.60" height="19.60" fill="#bfd3f6"/>
<rect x="398.00" y="499.00" width="19.60" height="19.60" fill="#c0d4f5"/>
<rect x="417.00" y="499.00" width="19.60" height="19.60" fill="#c4d5f3"/>
<rect x="436.00" y="499.00" width="19.60" height="19.60" fill="#d1dae9"/>
<rect x="455.00" y="499.00" width="19.60" height="19.60" fill="#f1ccb8"/>
<rect x="474.00" y="499.00" width="19.60" height="19.60" fill="#de614d"/>
<rect x="493.00" y="499.00" width="56.60" height="19.60" fill="#c7d7f0"/>
<rect x="549.00" y="499.00" width="19.60" height="19.60" fill="#b40426"/>
<rect x="568.00" y="499.00" width="19.60" height="19.60" fill="#c7d7f0"/>
<rect x="587.00" y="499.00" width="75.60" height="19.60" fill="#cbd8ee"/>
<rect x="59.40" y="518.00" width="19.20" height="19.60" fill="#cfdaea"/>
<rect x="78.00" y="518.00" width="19.60" height="19.60" fill="#c7d7f0"/>
<rect x="97.00" y="518.00" width="19.60" height="19.60" fill="#a5c3fe"/>
<rect x="116.00" y="518.00" width="19.60" height="19.60" fill="#f4c6af"/>
<rect x="135.00" y="518.00" width="19.60" height="19.60" fill="#c3d5f4"/>
<rect x="154.00" y="518.00" width="18.60" height="19.60" fill="#c4d5f3"/>
<rect x="172.00" y="518.00" width="19.60" height="19.60" fill="#f4987a"/>
<rect x="191.00" y="518.00" width="19.60" height="19.60" fill="#e57058"/>
<rect x="210.00" y="518.00" width="19.60" height="19.60" fill="#c7d7f0"/>
<rect x="229.00" y="518.00" width="19.60" height="19.60" fill="#f5a081"/>
<rect x="248.00" y="518.00" width="19.60" height="19.60" fill="#f39475"/>
<rect x="267.00" y="518.00" width="18.60" height="19.60" fill="#e3d9d3"/>
<rect x="285.00" y="518.00" width="19.60" height="19.60" fill="#f5c1a9"/>
<rect x="304.00" y="518.00" width="19.60" height="19.60" fill="#f4c6af"/>
<rect x="323.00" y="518.00" width="19.60" height="19.60" fill="#f7b599"/>
<rect x="342.00" y="518.00" width="19.60" height="19.60" fill="#ecd3c5"/>
<rect x="361.00" y="518.00" width="19.60" height="19.60" fill="#f2c9b4"/>
<rect x="380.00" y="518.00" width="18.60" height="19.60" fill="#b6cefa"/>
<rect x="398.00" y="518.00" width="19.60" height="19.60" fill="#b7cff9"/>
<rect x="417.00" y="518.00" width="19.60" height="19.60" fill="#c0d4f5"/>
<rect x="436.00" y="518.00" width="19.60" height="19.60" fill="#8badfd"/>
<rect x="455.00" y="518.00" width="19.60" height="19.60" fill="#bbd1f8"/>
<rect x="474.00" y="518.00" width="19.60" height="19.60" fill="#c7d7f0"/>
<rect x="493.00" y="518.00" width="19.60" height="19.60" fill="#dbdcde"/>
<rect x="512.00" y="518.00" width="18.60" height="19.60" fill="#e36c55"/>
<rect x="530.00" y="518.00" width="19.60" height="19.60" fill="#e16751"/>
<rect x="549.00" y="518.00" width="19.60" height="19.60" fill="#c7d7f0"/>
<rect x="568.00" y="518.00" width="19.60" height="19.60" fill="#b40426"/>
<rect x="587.00" y="518.00" width="75.60" height="19.60" fill="#cbd8ee"/>
<rect x="59.40" y="537.00" width="19.20" height="19.60" fill="#cfdaea"/>
<rect x="78.00" y="537.00" width="19.60" height="19.60" fill="#c4d5f3"/>
<rect x="97.00" y="537.00" width="19.60" height="19.60" fill="#a7c5fe"/>
<rect x="116.00" y="537.00" width="19.60" height="19.60" fill="#f1ccb8"/>
<rect x="135.00" y="537.00" width="19.60" height="19.60" fill="#c3d5f4"/>
<rect x="154.00" y="537.00" width="18.60" height="19.60" fill="#c4d5f3"/>
<rect x="172.00" y="537.00" width="19.60" height="19.60" fill="#f7aa8c"/>
<rect x="191.00" y="537.00" width="19.60" height="19.60" fill="#f18f71"/>
<rect x="210.00" y="537.00" width="19.60" height="19.60" fill="#c9d7f0"/>
<rect x="229.00" y="537.00" width="19.60" height="19.60" fill="#e7d7ce"/>
<rect x="248.00" y="537.00" width="19.60" height="19.60" fill="#efcfbf"/>
<rect x="267.00" y="537.00" width="18.60" height="19.60" fill="#f7af91"/>
<rect x="285.00" y="537.00" width="38.60" height="19.60" fill="#cedaeb"/>
<rect x="323.00" y="537.00" width="19.60" height="19.60" fill="#e7d7ce"/>
<rect x="342.00" y="537.00" width="19.60" height="19.60" fill="#f39475"/>
<rect x="361.00" y="537.00" width="19.60" height="19.60" fill="#cfdaea"/>
<rect x="380.00" y="537.00" width="37.60" height="19.60" fill="#b7cff9"/>
<rect x="417.00" y="537.00" width="19.60" height="19.60" fill="#c0d4f5"/>
<rect x="436.00" y="537.00" width="19.60" height="19.60" fill="#94b6ff"/>
<rect x="455.00" y="537.00" width="19.60" height="19.60" fill="#bfd3f6"/>
<rect x="474.00" y="537.00" width="19.60" height="19.60" fill="#c7d7f0"/>
<rect x="493.00" y="537.00" width="19.60" height="19.60" fill="#dd5f4b"/>
<rect x="512.00" y="537.00" width="18.60" height="19.60" fill="#edd2c3"/>
<rect x="530.00" y="537.00" width="57.60" height="19.60" fill="#cbd8ee"/>
<rect x="587.00" y="537.00" width="19.60" height="19.60" fill="#b40426"/>
<rect x="606.00" y="537.00" width="19.60" height="19.60" fill="#d55042"/>
<rect x="625.00" y="537.00" width="18.60" height="19.60" fill="#d1493f"/>
<rect x="643.00" y="537.00" width="19.60" height="19.60" fill="#d95847"/>
<rect x="59.40" y="556.00" width="19.20" height="20.60" fill="#cfdaea"/>
<rect x="78.00" y="556.00" width="19.60" height="20.60" fill="#c4d5f3"/>
<rect x="97.00" y="556.00" width="19.60" height="20.60" fill="#aec9fc"/>
<rect x="116.00" y="556.00" width="19.60" height="20.60" fill="#efcfbf"/>
<rect x="135.00" y="556.00" width="19.60" height="20.60" fill="#c3d5f4"/>
<rect x="154.00" y="556.00" width="18.60" height="20.60" fill="#c4d5f3"/>
<rect x="172.00" y="556.00" width="19.60" height="20.60" fill="#f7b599"/>
<rect x="191.00" y="556.00" width="19.60" height="20.60" fill="#f5a081"/>
<rect x="210.00" y="556.00" width="19.60" height="20.60" fill="#c9d7f0"/>
<rect x="229.00" y="556.00" width="19.60" height="20.60" fill="#e3d9d3"/>
<rect x="248.00" y="556.00" width="19.60" height="20.60" fill="#e6d7cf"/>
<rect x="267.00" y="556.00" width="18.60" height="20.60" fill="#f7b99e"/>
<rect x="285.00" y="556.00" width="38.60" height="20.60" fill="#cedaeb"/>
<rect x="323.00" y="556.00" width="19.60" height="20.60" fill="#e0dbd8"/>
<rect x="342.00" y="556.00" width="19.60" height="20.60" fill="#f49a7b"/>
<rect x="361.00" y="556.00" width="19.60" height="20.60" fill="#cfdaea"/>
<rect x="380.00" y="556.00" width="37.60" height="20.60" fill="#b7cff9"/>
<rect x="417.00" y="556.00" width="19.60" height="20.60" fill="#c0d4f5"/>
<rect x="436.00" y="556.00" width="19.60" height="20.60" fill="#9abbff"/>
<rect x="455.00" y="556.00" width="19.60" height="20.60" fill="#bfd3f6"/>
<rect x="474.00" y="556.00" width="19.60" height="20.60" fill="#c7d7f0"/>
<rect x="493.00" y="556.00" width="19.60" height="20.60" fill="#e57058"/>
<rect x="512.00" y="556.00" width="18.60" height="20.60" fill="#dedcdb"/>
<rect x="530.00" y="556.00" width="57.60" height="20.60" fill="#cbd8ee"/>
<rect x="587.00" y="556.00" width="19.60" height="20.60" fill="#d55042"/>
<rect x="606.00" y="556.00" width="19.60" height="20.60" fill="#b40426"/>
<rect x="625.00" y="556.00" width="18.60" height="20.60" fill="#ba162b"/>
<rect x="643.00" y="556.00" width="19.60" height="20.60" fill="#e8765c"/>
<rect x="59.40" y="576.00" width="19.20" height="19.60" fill="#cfdaea"/>
<rect x="78.00" y="576.00" width="19.60" height="19.60" fill="#c4d5f3"/>
<rect x="97.00" y="576.00" width="19.60" height="19.60" fill="#aec9fc"/>
<rect x="116.00" y="576.00" width="19.60" height="19.60" fill="#efcfbf"/>
<rect x="135.00" y="576.00" width="19.60" height="19.60" fill="#c3d5f4"/>
<rect x="154.00" y="576.00" width="18.60" height="19.60" fill="#c4d5f3"/>
<rect x="172.00" y="576.00" width="19.60" height="19.60" fill="#f7b599"/>
<rect x="191.00" y="576.00" width="19.60" height="19.60" fill="#f5a081"/>
<rect x="210.00" y="576.00" width="19.60" height="19.60" fill="#c9d7f0"/>
<rect x="229.00" y="576.00" width="19.60" height="19.60" fill="#e3d9d3"/>
<rect x="248.00" y="576.00" width="19.60" height="19.60" fill="#e6d7cf"/>
<rect x="267.00" y="576.00" width="18.60" height="19.60" fill="#f7b99e"/>
<rect x="285.00" y="576.00" width="38.60" height="19.60" fill="#cedaeb"/>
<rect x="323.00" y="576.00" width="19.60" height="19.60" fill="#e0dbd8"/>
<rect x="342.00" y="576.00" width="19.60" height="19.60" fill="#f49a7b"/>
<rect x="361.00" y="576.00" width="19.60" height="19.60" fill="#cfdaea"/>
<rect x="380.00" y="576.00" width="37.60" height="19.60" fill="#b7cff9"/>
<rect x="417.00" y="576.00" width="19.60" height="19.60" fill="#c0d4f5"/>
<rect x="436.00" y="576.00" width="19.60" height="19.60" fill="#9abbff"/>
<rect x="455.00" y="576.00" width="19.60" height="19.60" fill="#bfd3f6"/>
<rect x="474.00" y="576.00" width="19.60" height="19.60" fill="#c7d7f0"/>
<rect x="493.00" y="576.00" width="19.60" height="19.60" fill="#e57058"/>
<rect x="512.00" y="576.00" width="18.60" height="19.60" fill="#dedcdb"/>
<rect x="530.00" y="576.00" width="57.60" height="19.60" fill="#cbd8ee"/>
<rect x="587.00" y="576.00" width="19.60" height="19.60" fill="#d1493f"/>
<rect x="606.00" y="576.00" width="19.60" height="19.60" fill="#ba162b"/>
<rect x="625.00" y="576.00" width="18.60" height="19.60" fill="#b40426"/>
<rect x="643.00" y="576.00" width="19.60" height="19.60" fill="#e8765c"/>
<rect x="59.40" y="595.00" width="19.20" height="19.90" fill="#cfdaea"/>
<rect x="78.00" y="595.00" width="19.60" height="19.90" fill="#c4d5f3"/>
<rect x="97.00" y="595.00" width="19.60" height="19.90" fill="#a7c5fe"/>
<rect x="116.00" y="595.00" width="19.60" height="19.90" fill="#f1ccb8"/>
<rect x="135.00" y="595.00" width="19.60" height="19.90" fill="#c3d5f4"/>
<rect x="154.00" y="595.00" width="18.60" height="19.90" fill="#c4d5f3"/>
<rect x="172.00" y="595.00" width="19.60" height="19.90" fill="#f7aa8c"/>
<rect x="191.00" y="595.00" width="19.60" height="19.90" fill="#f49a7b"/>
<rect x="210.00" y="595.00" width="19.60" height="19.90" fill="#cfdaea"/>
<rect x="229.00" y="595.00" width="19.60" height="19.90" fill="#e3d9d3"/>
<rect x="248.00" y="595.00" width="19.60" height="19.90" fill="#efcfbf"/>
<rect x="267.00" y="595.00" width="18.60" height="19.90" fill="#f7af91"/>
<rect x="285.00" y="595.00" width="38.60" height="19.90" fill="#cedaeb"/>
<rect x="323.00" y="595.00" width="19.60" height="19.90" fill="#ead5c9"/>
<rect x="342.00" y="595.00" width="19.60" height="19.90" fill="#f49a7b"/>
<rect x="361.00" y="595.00" width="19.60" height="19.90" fill="#d3dbe7"/>
<rect x="380.00" y="595.00" width="37.60" height="19.90" fill="#b7cff9"/>
<rect x="417.00" y="595.00" width="19.60" height="19.90" fill="#c0d4f5"/>
<rect x="436.00" y="595.00" width="19.60" height="19.90" fill="#94b6ff"/>
<rect x="455.00" y="595.00" width="19.60" height="19.90" fill="#bfd3f6"/>
<rect x="474.00" y="595.00" width="19.60" height="19.90" fill="#c7d7f0"/>
<rect x="493.00" y="595.00" width="19.60" height="19.90" fill="#d95847"/>
<rect x="512.00" y="595.00" width="18.60" height="19.90" fill="#e1dad6"/>
<rect x="530.00" y="595.00" width="57.60" height="19.90" fill="#cbd8ee"/>
<rect x="587.00" y="595.00" width="19.60" height="19.90" fill="#d95847"/>
<rect x="606.00" y="595.00" width="37.60" height="19.90" fill="#e8765c"/>
<rect x="643.00" y="595.00" width="19.60" height="19.90" fill="#b40426"/>
</g>
<g stroke="#262626" stroke-width="0.89">
<line x1="56.70" y1="12.46" x2="60.60" y2="12.46"/>
<line x1="56.70" y1="31.59" x2="60.60" y2="31.59"/>
<line x1="56.70" y1="50.72" x2="60.60" y2="50.72"/>
<line x1="56.70" y1="69.85" x2="60.60" y2="69.85"/>
<line x1="56.70" y1="88.98" x2="60.60" y2="88.98"/>
<line x1="56.70" y1="108.10" x2="60.60" y2="108.10"/>
<line x1="56.70" y1="127.23" x2="60.60" y2="127.23"/>
<line x1="56.70" y1="146.36" x2="60.60" y2="146.36"/>
<line x1="56.70" y1="165.49" x2="60.60" y2="165.49"/>
<line x1="56.70" y1="184.62" x2="60.60" y2="184.62"/>
<line x1="56.70" y1="203.75" x2="60.60" y2="203.75"/>
<line x1="56.70" y1="222.87" x2="60.60" y2="222.87"/>
<line x1="56.70" y1="242.00" x2="60.60" y2="242.00"/>
<line x1="56.70" y1="261.13" x2="60.60" y2="261.13"/>
<line x1="56.70" y1="280.26" x2="60.60" y2="280.26"/>
<line x1="56.70" y1="299.39" x2="60.60" y2="299.39"/>
<line x1="56.70" y1="318.51" x2="60.60" y2="318.51"/>
<line x1="56.70" y1="337.64" x2="60.60" y2="337.64"/>
<line x1="56.70" y1="356.77" x2="60.60" y2="356.77"/>
<line x1="56.70" y1="375.90" x2="60.60" y2="375.90"/>
<line x1="56.70" y1="395.03" x2="60.60" y2="395.03"/>
<line x1="56.70" y1="414.15" x2="60.60" y2="414.15"/>
<line x1="56.70" y1="433.28" x2="60.60" y2="433.28"/>
<line x1="56.70" y1="452.41" x2="60.60" y2="452.41"/>
<line x1="56.70" y1="471.54" x2="60.60" y2="471.54"/>
<line x1="56.70" y1="490.67" x2="60.60" y2="490.67"/>
<line x1="56.70" y1="509.80" x2="60.60" y2="509.80"/>
<line x1="56.70" y1="528.92" x2="60.60" y2="528.92"/>
<line x1="56.70" y1="548.05" x2="60.60" y2="548.05"/>
<line x1="56.70" y1="567.18" x2="60.60" y2="567.18"/>
<line x1="56.70" y1="586.31" x2="60.60" y2="586.31"/>
<line x1="56.70" y1="605.44" x2="60.60" y2="605.44"/>
<line x1="70.02" y1="615.00" x2="70.02" y2="619.80"/>
<line x1="88.85" y1="615.00" x2="88.85" y2="619.80"/>
<line x1="107.69" y1="615.00" x2="107.69" y2="619.80"/>
<line x1="126.52" y1="615.00" x2="126.52" y2="619.80"/>
<line x1="145.35" y1="615.00" x2="145.35" y2="619.80"/>
<line x1="164.19" y1="615.00" x2="164.19" y2="619.80"/>
<line x1="183.02" y1="615.00" x2="183.02" y2="619.80"/>
<line x1="201.86" y1="615.00" x2="201.86" y2="619.80"/>
<line x1="220.69" y1="615.00" x2="220.69" y2="619.80"/>
<line x1="239.53" y1="615.00" x2="239.53" y2="619.80"/>
<line x1="258.36" y1="615.00" x2="258.36" y2="619.80"/>
<line x1="277.20" y1="615.00" x2="277.20" y2="619.80"/>
<line x1="296.03" y1="615.00" x2="296.03" y2="619.80"/>
<line x1="314.86" y1="615.00" x2="314.86" y2="619.80"/>
<line x1="333.70" y1="615.00" x2="333.70" y2="619.80"/>
<line x1="352.53" y1="615.00" x2="352.53" y2="619.80"/>
<line x1="371.37" y1="615.00" x2="371.37" y2="619.80"/>
<line x1="390.20" y1="615.00" x2="390.20" y2="619.80"/>
<line x1="409.04" y1="615.00" x2="409.04" y2="619.80"/>
<line x1="427.87" y1="615.00" x2="427.87" y2="619.80"/>
<line x1="446.70" y1="615.00" x2="446.70" y2="619.80"/>
<line x1="465.54" y1="615.00" x2="465.54" y2="619.80"/>
<line x1="484.37" y1="615.00" x2="484.37" y2="619.80"/>
<line x1="503.21" y1="615.00" x2="503.21" y2="619.80"/>
<line x1="522.04" y1="615.00" x2="522.04" y2="619.80"/>
<line x1="540.88" y1="615.00" x2="540.88" y2="619.80"/>
<line x1="559.71" y1="615.00" x2="559.71" y2="619.80"/>
<line x1="578.55" y1="615.00" x2="578.55" y2="619.80"/>
<line x1="597.38" y1="615.00" x2="597.38" y2="619.80"/>
<line x1="616.21" y1="615.00" x2="616.21" y2="619.80"/>
<line x1="635.05" y1="615.00" x2="635.05" y2="619.80"/>
<line x1="653.88" y1="615.00" x2="653.88" y2="619.80"/>
</g>
<g text-anchor="end">
<text transform="translate(51.60,16.91) scale(1,1.1)">RAdeg</text>
<text transform="translate(51.60,36.04) scale(1,1.1)">DEdeg</text>
<text transform="translate(51.60,55.17) scale(1,1.1)">SFSM</text>
<text transform="translate(51.60,74.30) scale(1,1.1)">SFFDF</text>
<text transform="translate(51.60,93.43) scale(1,1.1)">SFAF</text>
<text transform="translate(51.60,112.55) scale(1,1.1)">DEOYes</text>
<text transform="translate(51.60,131.68) scale(1,1.1)">DEONo</text>
<text transform="translate(51.60,150.81) scale(1,1.1)">SAYes</text>
<text transform="translate(51.60,169.94) scale(1,1.1)">SANo</text>
<text transform="translate(51.60,189.07) scale(1,1.1)">BS</text>
<text transform="translate(51.60,208.20) scale(1,1.1)">BW</text>
<text transform="translate(51.60,227.32) scale(1,1.1)">BNo</text>
<text transform="translate(51.60,246.45) scale(1,1.1)">BSD</text>
<text transform="translate(51.60,265.58) scale(1,1.1)">BSL</text>
<text transform="translate(51.60,284.71) scale(1,1.1)">BSM</text>
<text transform="translate(51.60,303.84) scale(1,1.1)">BSS</text>
<text transform="translate(51.60,322.96) scale(1,1.1)">BSNo</text>
<text transform="translate(51.60,342.09) scale(1,1.1)">RR</text>
<text transform="translate(51.60,361.22) scale(1,1.1)">RIB</text>
<text transform="translate(51.60,380.35) scale(1,1.1)">RCS</text>
<text transform="translate(51.60,399.48) scale(1,1.1)">EOBB</text>
<text transform="translate(51.60,418.60) scale(1,1.1)">EOBNo</text>
<text transform="translate(51.60,437.73) scale(1,1.1)">EOBR</text>
<text transform="translate(51.60,456.86) scale(1,1.1)">SWT</text>
<text transform="translate(51.60,475.99) scale(1,1.1)">SWM</text>
<text transform="translate(51.60,495.12) scale(1,1.1)">SWL</text>
<text transform="translate(51.60,514.25) scale(1,1.1)">SAC1</text>
<text transform="translate(51.60,533.37) scale(1,1.1)">SAC2</text>
<text transform="translate(51.60,552.50) scale(1,1.1)">SAC3</text>
<text transform="translate(51.60,571.63) scale(1,1.1)">SAC4</text>
<text transform="translate(51.60,590.76) scale(1,1.1)">SAC4+</text>
<text transform="translate(51.60,609.89) scale(1,1.1)">SACCT</text>
</g>
<g text-anchor="end">
<text transform="translate(72.62,624.70) rotate(-90) scale(1,1.1)">RAdeg</text>
<text transform="translate(91.45,624.70) rotate(-90) scale(1,1.1)">DEdeg</text>
<text transform="translate(110.29,624.70) rotate(-90) scale(1,1.1)">SFSM</text>
<text transform="translate(129.12,624.70) rotate(-90) scale(1,1.1)">SFFDF</text>
<text transform="translate(147.95,624.70) rotate(-90) scale(1,1.1)">SFAF</text>
<text transform="translate(166.79,624.70) rotate(-90) scale(1,1.1)">DEOYes</text>
<text transform="translate(185.62,624.70) rotate(-90) scale(1,1.1)">DEONo</text>
<text transform="translate(204.46,624.70) rotate(-90) scale(1,1.1)">SAYes</text>
<text transform="translate(223.29,624.70) rotate(-90) scale(1,1.1)">SANo</text>
<text transform="translate(242.13,624.70) rotate(-90) scale(1,1.1)">BS</text>
<text transform="translate(260.96,624.70) rotate(-90) scale(1,1.1)">BW</text>
<text transform="translate(279.80,624.70) rotate(-90) scale(1,1.1)">BNo</text>
<text transform="translate(298.63,624.70) rotate(-90) scale(1,1.1)">BSD</text>
<text transform="translate(317.46,624.70) rotate(-90) scale(1,1.1)">BSL</text>
<text transform="translate(336.30,624.70) rotate(-90) scale(1,1.1)">BSM</text>
<text transform="translate(355.13,624.70) rotate(-90) scale(1,1.1)">BSS</text>
<text transform="translate(373.97,624.70) rotate(-90) scale(1,1.1)">BSNo</text>
<text transform="translate(392.80,624.70) rotate(-90) scale(1,1.1)">RR</text>
<text transform="translate(411.64,624.70) rotate(-90) scale(1,1.1)">RIB</text>
<text transform="translate(430.47,624.70) rotate(-90) scale(1,1.1)">RCS</text>
<text transform="translate(449.30,624.70) rotate(-90) scale(1,1.1)">EOBB</text>
<text transform="translate(468.14,624.70) rotate(-90) scale(1,1.1)">EOBNo</text>
<text transform="translate(486.97,624.70) rotate(-90) scale(1,1.1)">EOBR</text>
<text transform="translate(505.81,624.70) rotate(-90) scale(1,1.1)">SWT</text>
<text transform="translate(524.64,624.70) rotate(-90) scale(1,1.1)">SWM</text>
<text transform="translate(543.48,624.70) rotate(-90) scale(1,1.1)">SWL</text>
<text transform="translate(562.31,624.70) rotate(-90) scale(1,1.1)">SAC1</text>
<text transform="translate(581.15,624.70) rotate(-90) scale(1,1.1)">SAC2</text>
<text transform="translate(599.98,624.70) rotate(-90) scale(1,1.1)">SAC3</text>
<text transform="translate(618.81,624.70) rotate(-90) scale(1,1.1)">SAC4</text>
<text transform="translate(637.65,624.70) rotate(-90) scale(1,1.1)">SAC4+</text>
<text transform="translate(656.48,624.70) rotate(-90) scale(1,1.1)">SACCT</text>
</g>
<defs><linearGradient id="cb" x1="0" y1="1" x2="0" y2="0">
<stop offset="0.0000" stop-color="#3b4cc0"/>
<stop offset="0.0156" stop-color="#3f53c6"/>
<stop offset="0.0312" stop-color="#445acc"/>
<stop offset="0.0469" stop-color="#4961d2"/>
<stop offset="0.0625" stop-color="#4e68d8"/>
<stop offset="0.0781" stop-color="#536edd"/>
<stop offset="0.0938" stop-color="#5875e1"/>
<stop offset="0.1094" stop-color="#5d7ce6"/>
<stop offset="0.1250" stop-color="#6282ea"/>
<stop offset="0.1406" stop-color="#6788ee"/>
<stop offset="0.1562" stop-color="#6c8ff1"/>
<stop offset="0.1719" stop-color="#7295f4"/>
<stop offset="0.1875" stop-color="#779af7"/>
<stop offset="0.2031" stop-color="#7da0f9"/>
<stop offset="0.2188" stop-color="#82a6fb"/>
<stop offset="0.2344" stop-color="#88abfd"/>
<stop offset="0.2500" stop-color="#8db0fe"/>
<stop offset="0.2656" stop-color="#93b5fe"/>
<stop offset="0.2812" stop-color="#98b9ff"/>
<stop offset="0.2969" stop-color="#9ebeff"/>
<stop offset="0.3125" stop-color="#a3c2fe"/>
<stop offset="0.3281" stop-color="#a9c6fd"/>
<stop offset="0.3438" stop-color="#aec9fc"/>
<stop offset="0.3594" stop-color="#b3cdfb"/>
<stop offset="0.3750" stop-color="#b9d0f9"/>
<stop offset="0.3906" stop-color="#bed2f6"/>
<stop offset="0.4062" stop-color="#c3d5f4"/>
<stop offset="0.4219" stop-color="#c7d7f0"/>
<stop offset="0.4375" stop-color="#ccd9ed"/>
<stop offset="0.4531" stop-color="#d1dae9"/>
<stop offset="0.4688" stop-color="#d5dbe5"/>
<stop offset="0.4844" stop-color="#d9dce1"/>
<stop offset="0.5000" stop-color="#dddcdc"/>
<stop offset="0.5156" stop-color="#e1dad6"/>
<stop offset="0.5312" stop-color="#e5d8d1"/>
<stop offset="0.5469" stop-color="#e9d5cb"/>
<stop offset="0.5625" stop-color="#ecd3c5"/>
<stop offset="0.5781" stop-color="#efcfbf"/>
<stop offset="0.5938" stop-color="#f1ccb8"/>
<stop offset="0.6094" stop-color="#f3c8b2"/>
<stop offset="0.6250" stop-color="#f5c4ac"/>
<stop offset="0.6406" stop-color="#f6bfa6"/>
<stop offset="0.6562" stop-color="#f7ba9f"/>
<stop offset="0.6719" stop-color="#f7b599"/>
<stop offset="0.6875" stop-color="#f7b093"/>
<stop offset="0.7031" stop-color="#f7aa8c"/>
<stop offset="0.7188" stop-color="#f6a586"/>
<stop offset="0.7344" stop-color="#f59f80"/>
<stop offset="0.7500" stop-color="#f4987a"/>
<stop offset="0.7656" stop-color="#f29274"/>
<stop offset="0.7812" stop-color="#f08b6e"/>
<stop offset="0.7969" stop-color="#ee8468"/>
<stop offset="0.8125" stop-color="#eb7d62"/>
<stop offset="0.8281" stop-color="#e8765c"/>
<stop offset="0.8438" stop-color="#e46e56"/>
<stop offset="0.8594" stop-color="#e16751"/>
<stop offset="0.8750" stop-color="#dd5f4b"/>
<stop offset="0.8906" stop-color="#d85646"/>
<stop offset="0.9062" stop-color="#d44e41"/>
<stop offset="0.9219" stop-color="#cf453c"/>
<stop offset="0.9375" stop-color="#ca3b37"/>
<stop offset="0.9531" stop-color="#c43032"/>
<stop offset="0.9688" stop-color="#be242e"/>
<stop offset="0.9844" stop-color="#b8122a"/>
<stop offset="1.0000" stop-color="#b40426"/>
</linearGradient></defs>
<rect x="701.00" y="2.90" width="30.00" height="612.10" fill="url(#cb)"/>
<g stroke="#262626" stroke-width="0.89">
<line x1="731.00" y1="3.80" x2="736.30" y2="3.80"/>
<line x1="731.00" y1="72.26" x2="736.30" y2="72.26"/>
<line x1="731.00" y1="140.72" x2="736.30" y2="140.72"/>
<line x1="731.00" y1="209.18" x2="736.30" y2="209.18"/>
<line x1="731.00" y1="277.64" x2="736.30" y2="277.64"/>
<line x1="731.00" y1="346.10" x2="736.30" y2="346.10"/>
<line x1="731.00" y1="414.56" x2="736.30" y2="414.56"/>
<line x1="731.00" y1="483.02" x2="736.30" y2="483.02"/>
<line x1="731.00" y1="551.48" x2="736.30" y2="551.48"/>
</g><g style="font-size:10px">
<text transform="translate(738.80,8.15) scale(1,1.22)">1.0</text>
<text transform="translate(738.80,76.61) scale(1,1.22)">0.8</text>
<text transform="translate(738.80,145.07) scale(1,1.22)">0.6</text>
<text transform="translate(738.80,213.53) scale(1,1.22)">0.4</text>
<text transform="translate(738.80,281.99) scale(1,1.22)">0.2</text>
<text transform="translate(738.80,350.45) scale(1,1.22)">0.0</text>
<text transform="translate(738.80,418.91) scale(1,1.22)">−0.2</text>
<text transform="translate(738.80,487.37) scale(1,1.22)">−0.4</text>
<text transform="translate(738.80,555.83) scale(1,1.22)">−0.6</text>
</g></svg></body></html>
